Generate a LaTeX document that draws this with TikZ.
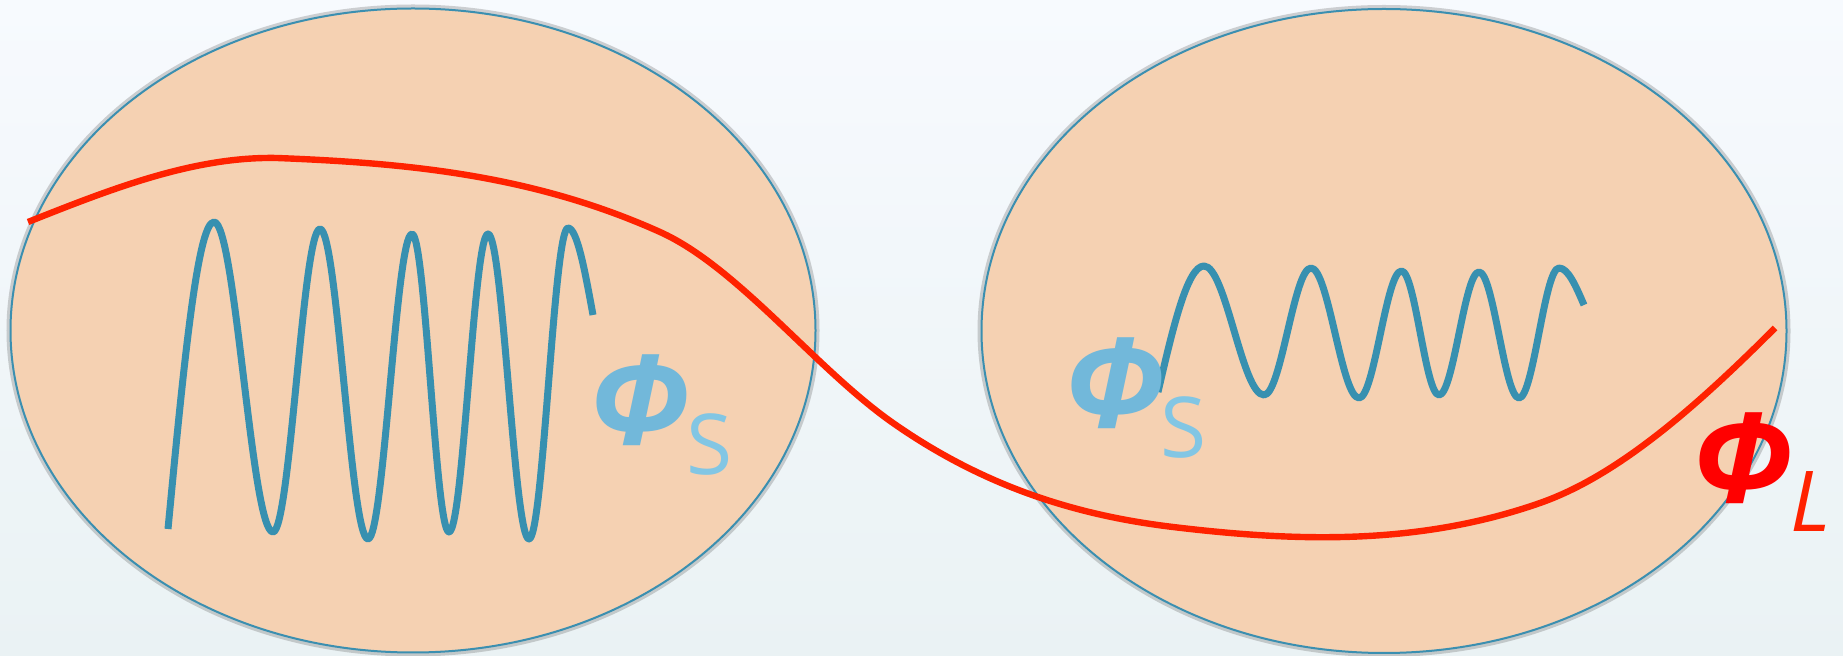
\documentclass[tikz,border=0pt]{standalone}
\usepackage{fontspec}
\newfontfamily\labfont{Open Sans}
\usetikzlibrary{shapes.geometric,positioning,calc}
\definecolor{peach}{HTML}{F5D1B2}
\definecolor{rimblue}{HTML}{3B8FB0}
\definecolor{waveblue}{HTML}{3790B0}
\definecolor{longred}{HTML}{FF2200}
\definecolor{phiblue}{HTML}{72B8DA}
\definecolor{subblue}{HTML}{82C6E4}
\definecolor{bgtop}{HTML}{F7FAFE}
\definecolor{bgbot}{HTML}{EAF2F4}

\begin{document}
\begin{tikzpicture}[
  x=0.5pt, y=-0.5pt,
  region/.style={ellipse, draw=rimblue, line width=1pt, fill=peach, inner sep=0pt,
    minimum width=402.5pt, minimum height=322pt,
    preaction={draw=black!70, line width=4pt, opacity=0.25}},
  shortwave/.style={draw=waveblue, line width=3.5pt, line join=round},
  longwave/.style={draw=longred, line width=3.2pt},
  phitxt/.style={inner sep=0pt, anchor=base west, font=\labfont\bfseries\itshape\fontsize{62}{62}\selectfont},
  subtxt/.style={inner sep=0pt, anchor=base west, font=\labfont\fontsize{42}{42}\selectfont}
]
\shade[top color=bgtop, bottom color=bgbot] (0,0) rectangle (1843,656);
\useasboundingbox (0,0) rectangle (1843,656);

% the two regions
\node[region] (lreg) at (413,330.5) {};
\node[region] (rreg) at (1384,331) {};

% short-scale oscillations
\draw[shortwave] (168,529) sin (214,222) cos (243.5,377) sin (273,532) cos (296.5,380.5)
  sin (320,229) cos (344,384) sin (368,539) cos (390,386.5) sin (412,234) cos (430.5,383)
  sin (449,532) cos (468.5,383) sin (488,234) cos (508.5,386.5) sin (529,539)
  cos (548.5,383.5) sin (568,228) cos (593,315);
\draw[shortwave] (1158,392) sin (1204,266) cos (1234,330.5) sin (1264,395) cos (1287.5,331.5)
  sin (1311,268) cos (1335,333) sin (1359,398) cos (1380.25,334.5) sin (1401.5,271)
  cos (1420.25,333) sin (1439,395) cos (1459,333.5) sin (1479,272) cos (1499,335)
  sin (1519,398) cos (1539,333) sin (1559,268) cos (1584,305);

% long-scale field
\draw[longwave] (28,222) .. controls (111,189) and (194,156.3) .. (277,158)
  .. controls (405,163) and (532,174.4) .. (660,232)
  .. controls (737.7,267) and (815.3,368.6) .. (893,423)
  .. controls (986.3,488.3) and (1079.7,515.8) .. (1173,527)
  .. controls (1295.3,541.7) and (1417.7,545.8) .. (1540,503)
  .. controls (1618.3,475.6) and (1696.7,406.3) .. (1775,328);

% labels
\node[phitxt, text=phiblue] (phisa) at (589,445) {Φ};
\node[subtxt, text=subblue] (subsa) at (686,475) {S};
\node[phitxt, text=phiblue] (phisb) at (1064,428) {Φ};
\node[subtxt, text=subblue] (subsb) at (1160,458) {S};
\node[phitxt, text=red] (phil) at (1692,503) {Φ};
\node[subtxt, text=longred, font=\labfont\itshape\fontsize{42}{42}\selectfont] (subl) at (1790,532) {L};
\end{tikzpicture}
\end{document}
